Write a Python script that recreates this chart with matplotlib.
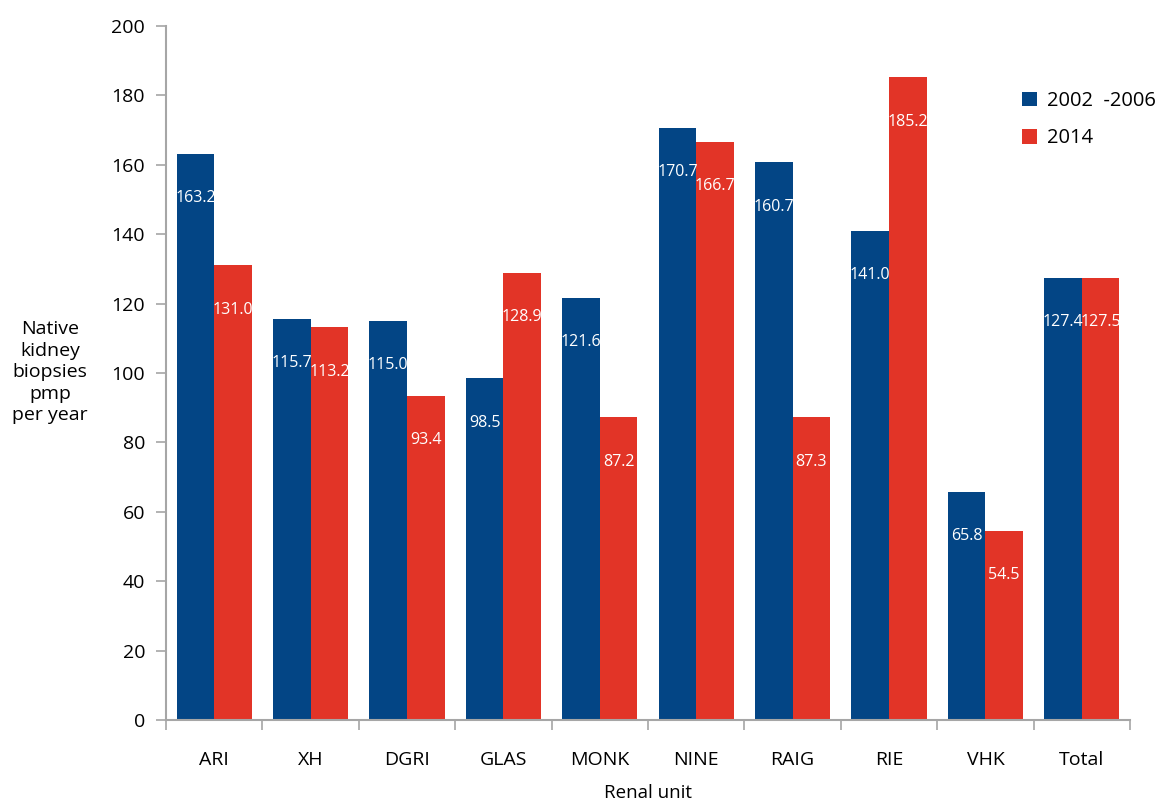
import numpy as np
import matplotlib.pyplot as plt
from matplotlib.ticker import FixedLocator, NullFormatter

units = ["ARI", "XH", "DGRI", "GLAS", "MONK", "NINE", "RAIG", "RIE", "VHK", "Total"]
rate_0206 = [163.2, 115.7, 115.0, 98.5, 121.6, 170.7, 160.7, 141.0, 65.8, 127.4]
rate_2014 = [131.0, 113.2, 93.4, 128.9, 87.2, 166.7, 87.3, 185.2, 54.5, 127.5]

blue = "#034585"
red = "#e23427"
grey = "#a6a6a6"

plt.rcParams["font.family"] = ["Open Sans", "DejaVu Sans"]

fig = plt.figure(figsize=(11.63, 8.05), dpi=100)
ax = fig.add_axes([166 / 1163, 85 / 805, 964 / 1163, 694 / 805])

x = np.arange(len(units))
w = 0.39
b1 = ax.bar(x + 0.5 - w / 2, rate_0206, w, color=blue, label="2002  -2006")
b2 = ax.bar(x + 0.5 + w / 2, rate_2014, w, color=red, label="2014")

# value labels sit inside each bar, a little below its top
for bars, vals in ((b1, rate_0206), (b2, rate_2014)):
    for r, v in zip(bars, vals):
        ax.annotate(f"{v:.1f}", (r.get_x() + r.get_width() / 2, v),
                    xytext=(0, -32), textcoords="offset points",
                    ha="center", va="center", color="white", fontsize=11.5)

ax.set_xlim(0, len(units))
ax.set_ylim(0, 200)
ax.set_yticks(range(0, 201, 20))
# ticks between groups, names centred under each group
ax.xaxis.set_major_locator(FixedLocator(range(len(units) + 1)))
ax.xaxis.set_major_formatter(NullFormatter())
ax.xaxis.set_minor_locator(FixedLocator(x + 0.5))
ax.set_xticklabels(units, minor=True)
ax.tick_params(axis="x", which="minor", length=0, pad=22, labelsize=14)
ax.tick_params(axis="x", which="major", length=7, color=grey, width=1.2)
ax.tick_params(axis="y", length=7, color=grey, width=1.2, labelsize=14, pad=8)

for s in ("top", "right"):
    ax.spines[s].set_visible(False)
for s in ("left", "bottom"):
    ax.spines[s].set_color(grey)
    ax.spines[s].set_linewidth(1.5)

ax.set_xlabel("Renal unit", fontsize=13.5, labelpad=11)
fig.text(50 / 1163, 1 - 372 / 805, "Native\nkidney\nbiopsies\npmp\nper year",
         ha="center", va="center", fontsize=14, linespacing=1.25)

ax.legend(loc="upper left", bbox_to_anchor=(1004 / 1163, 1 - 73 / 805),
          bbox_transform=fig.transFigure, frameon=False, fontsize=14.5,
          handlelength=0.75, handleheight=0.75, labelspacing=0.85, handletextpad=0.5)

fig.savefig("out.png", dpi=100)
